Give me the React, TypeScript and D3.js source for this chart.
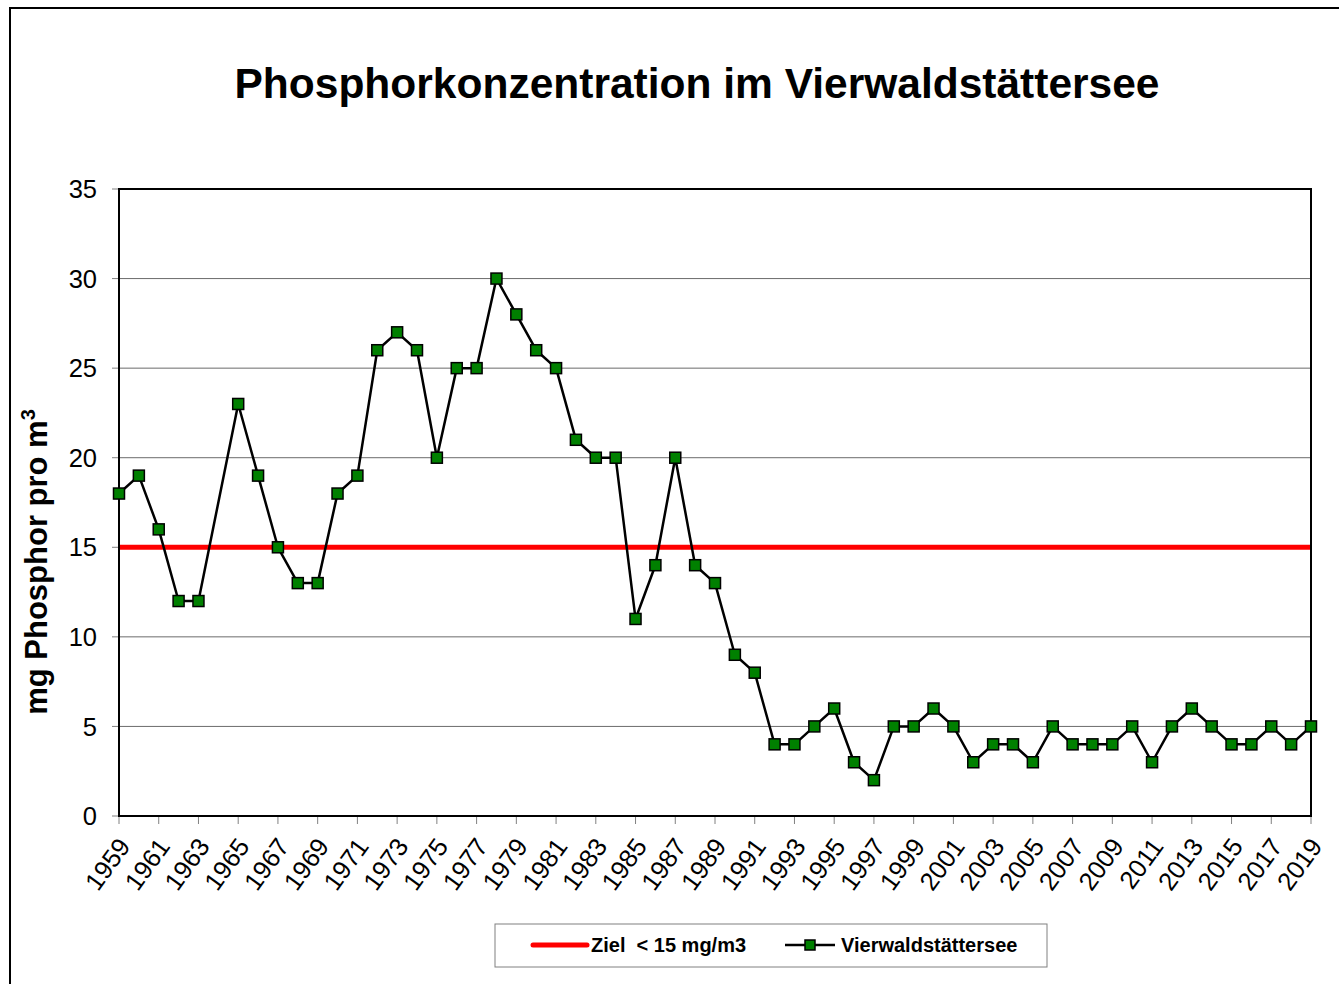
import React from 'react';
import * as d3 from 'd3';

// Jahre mit Messwerten (1964 fehlt)
const years = [
  1959, 1960, 1961, 1962, 1963, 1965, 1966, 1967, 1968, 1969, 1970, 1971, 1972, 1973, 1974,
  1975, 1976, 1977, 1978, 1979, 1980, 1981, 1982, 1983, 1984, 1985, 1986, 1987, 1988, 1989,
  1990, 1991, 1992, 1993, 1994, 1995, 1996, 1997, 1998, 1999, 2000, 2001, 2002, 2003, 2004,
  2005, 2006, 2007, 2008, 2009, 2010, 2011, 2012, 2013, 2014, 2015, 2016, 2017, 2018, 2019,
];
const phosphor = [
  18, 19, 16, 12, 12, 23, 19, 15, 13, 13, 18, 19, 26, 27, 26,
  20, 25, 25, 30, 28, 26, 25, 21, 20, 20, 11, 14, 20, 14, 13,
  9, 8, 4, 4, 5, 6, 3, 2, 5, 5, 6, 5, 3, 4, 4,
  3, 5, 4, 4, 4, 5, 3, 5, 6, 5, 4, 4, 5, 4, 5,
];
const target = 15;
const yTicks = [0, 5, 10, 15, 20, 25, 30, 35];
const xTickYears = d3.range(1959, 2020, 2);

export default function App() {
  const W = 1339;
  const H = 984;
  const left = 119;
  const right = 1311;
  const top = 189;
  const bottom = 816;

  const x = d3.scaleLinear().domain([1959, 2019]).range([left, right]);
  const y = d3.scaleLinear().domain([0, 35]).range([bottom, top]);

  const pts = years.map((yr, i) => ({ yr, v: phosphor[i] }));
  const line = d3
    .line<{ yr: number; v: number }>()
    .x(d => x(d.yr))
    .y(d => y(d.v));

  const font = 'Arial, "Liberation Sans", sans-serif';
  const ms = 11;

  return (
    <svg
      width={W}
      height={H}
      style={{ position: 'absolute', left: 0, top: 0, background: '#fff' }}
      fontFamily={font}
    >
      {/* outer frame */}
      <rect x={10} y={8} width={1400} height={1100} fill="#fff" stroke="#000" strokeWidth={2} />

      <text x={697} y={98} textAnchor="middle" fontSize={42.5} fontWeight="bold">
        Phosphorkonzentration im Vierwaldstättersee
      </text>

      {/* grid */}
      {yTicks.map(t => (
        <g key={t}>
          {t > 0 && t < 35 && (
            <line x1={left} x2={right} y1={y(t)} y2={y(t)} stroke="#6b6b6b" strokeWidth={1} />
          )}
          <line x1={left - 7} x2={left} y1={y(t)} y2={y(t)} stroke="#808080" strokeWidth={1} />
          <text x={97} y={y(t)} dy="0.36em" textAnchor="end" fontSize={25.5}>
            {t}
          </text>
        </g>
      ))}

      {xTickYears.map(yr => (
        <g key={yr}>
          <line x1={x(yr)} x2={x(yr)} y1={bottom} y2={bottom + 8} stroke="#808080" strokeWidth={1} />
          <text
            transform={`translate(${x(yr) + 5},${bottom + 25}) rotate(-54)`}
            textAnchor="end"
            dy="0.36em"
            fontSize={25.5}
          >
            {yr}
          </text>
        </g>
      ))}

      {/* target line */}
      <line x1={left} x2={right} y1={y(target)} y2={y(target)} stroke="#ff0000" strokeWidth={5} />

      {/* plot border */}
      <rect x={left} y={top} width={right - left} height={bottom - top} fill="none" stroke="#000" strokeWidth={2} />

      <path d={line(pts) as string} fill="none" stroke="#000" strokeWidth={2.5} strokeLinejoin="round" />
      {pts.map(p => (
        <rect
          key={p.yr}
          x={x(p.yr) - ms / 2}
          y={y(p.v) - ms / 2}
          width={ms}
          height={ms}
          fill="#008000"
          stroke="#000"
          strokeWidth={1.5}
        />
      ))}

      <text
        transform={`translate(47,562) rotate(-90)`}
        textAnchor="middle"
        fontSize={31}
        fontWeight="bold"
      >
        mg Phosphor pro m<tspan dy={-12} fontSize={20}>3</tspan>
      </text>

      {/* legend */}
      <rect x={495} y={924} width={552} height={43} fill="#fff" stroke="#808080" strokeWidth={1} />
      <line x1={533} x2={587} y1={945} y2={945} stroke="#ff0000" strokeWidth={5} strokeLinecap="round" />
      <text x={591} y={945} dy="0.36em" fontSize={20} fontWeight="bold" style={{ whiteSpace: 'pre' }}>
        {'Ziel  < 15 mg/m3'}
      </text>
      <line x1={785} x2={835} y1={945} y2={945} stroke="#000" strokeWidth={2.5} />
      <rect x={810 - 5} y={945 - 5} width={10} height={10} fill="#008000" stroke="#000" strokeWidth={1.5} />
      <text x={841} y={945} dy="0.36em" fontSize={20} fontWeight="bold">
        Vierwaldstättersee
      </text>
    </svg>
  );
}
